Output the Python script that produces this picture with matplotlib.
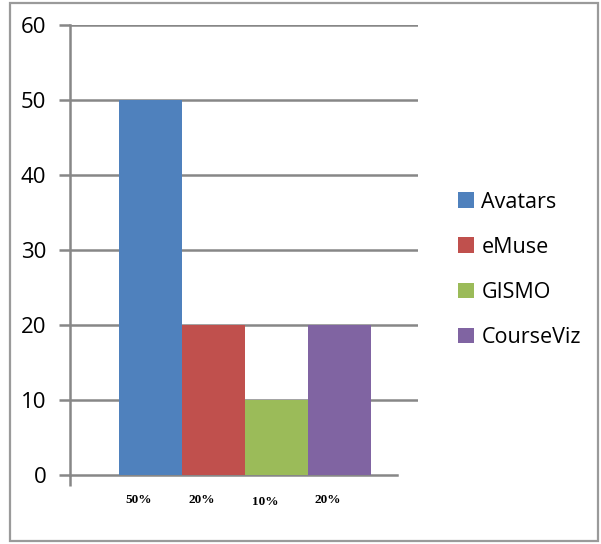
import matplotlib
matplotlib.use("Agg")
import matplotlib.pyplot as plt
import matplotlib.transforms as mtransforms
from matplotlib.patches import Rectangle

series = ["Avatars", "eMuse", "GISMO", "CourseViz"]
values = [50, 20, 10, 20]
pct_labels = ["50%", "20%", "10%", "20%"]
colors = ["#4F81BD", "#C0504D", "#9BBB59", "#8064A2"]
yticks = [0, 10, 20, 30, 40, 50, 60]

W, H = 601, 544
fig = plt.figure(figsize=(W / 100, H / 100), dpi=100)
fig.patch.set_facecolor("white")

# outer frame
fig.add_artist(Rectangle((10 / W, 3 / H), (598 - 10) / W, (541 - 3) / H,
                         transform=fig.transFigure, fill=False,
                         edgecolor="#9a9a9a", linewidth=1.6))

ax = fig.add_axes([70 / W, (H - 475) / H, (418 - 70) / W, (475 - 25) / H])
ax.set_facecolor("none")
grid_c = "#878787"

for i, (name, v, c) in enumerate(zip(series, values, colors)):
    ax.bar(i, v, width=1.0, color=c, label=name, zorder=3, linewidth=0)

ax.set_xlim(-1.28, 4.24)
ax.set_ylim(0, 60)
ax.set_yticks(yticks)
ax.set_yticklabels([str(t) for t in yticks], fontsize=16, family="Open Sans")
ax.yaxis.grid(True, color=grid_c, linewidth=1.8, zorder=0)
ax.get_ygridlines()[0].set_visible(False)
ax.set_axisbelow(True)
ax.tick_params(axis="y", length=8, width=1.8, color=grid_c, pad=9)
ax.set_xticks([-1.28])
ax.set_xticklabels([""])
ax.tick_params(axis="x", length=8, width=1.8, color=grid_c)
for s in ["top", "right"]:
    ax.spines[s].set_visible(False)
ax.spines["left"].set_color(grid_c)
ax.spines["left"].set_linewidth(1.8)
ax.spines["bottom"].set_color(grid_c)
ax.spines["bottom"].set_linewidth(1.8)
ax.spines["bottom"].set_bounds(-1.28, 3.9)

trans = mtransforms.blended_transform_factory(ax.transData, ax.transAxes)
for i, lab in enumerate(pct_labels):
    dy = -0.056 if lab != "10%" else -0.06
    ax.text(i - 0.19, dy, lab, transform=trans, ha="center", va="center",
            fontsize=9.5, fontweight="bold", family="Liberation Serif")

leg = fig.legend(loc="upper left", bbox_to_anchor=(447 / W, (H - 181) / H),
                 frameon=False, prop={"family": "Open Sans", "size": 15.5},
                 handlelength=0.75, handleheight=0.75, handletextpad=0.35,
                 labelspacing=1.12, borderpad=0)

fig.savefig("out.png", dpi=100)
